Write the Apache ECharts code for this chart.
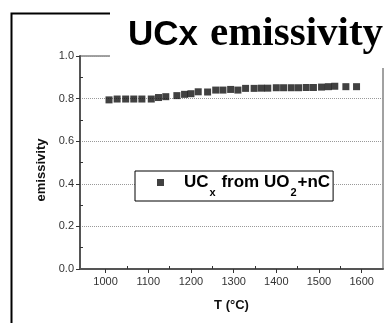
<!DOCTYPE html>
<html><head><meta charset="utf-8">
<script src="https://cdn.jsdelivr.net/npm/echarts@6/dist/echarts.min.js"></script>
<style>html,body{margin:0;padding:0;background:#fff}#c{width:390px;height:323px}</style>
</head><body><div id="c"></div>
<script>
const temps = [1008,1027,1047,1066,1085,1107,1124,1141,1167,1185,1200,1217,1239,1258,1275,1293,1310,1328,1348,1365,1380,1400,1417,1435,1452,1470,1487,1506,1522,1537,1563,1588];
const emiss = [0.794,0.798,0.798,0.798,0.798,0.798,0.805,0.809,0.814,0.820,0.823,0.832,0.831,0.840,0.840,0.843,0.840,0.848,0.848,0.849,0.849,0.851,0.851,0.851,0.851,0.852,0.852,0.854,0.856,0.858,0.856,0.856];
const xLabels = [1000,1100,1200,1300,1400,1500,1600];
const xMinor = [1050,1150,1250,1350,1450,1550];
const yLabels = [0,0.2,0.4,0.6,0.8,1.0];
const yMinor = [0.1,0.3,0.5,0.7,0.9];
const seriesName = 'UCx from UO2+nC';

const chart = echarts.init(document.getElementById('c'), null, {renderer:'canvas'});
const axisCol = '#555';
const sans = 'Liberation Sans, Arial, sans-serif';
chart.setOption({
  animation:false,
  grid:{left:80,top:56,right:7,bottom:54,show:true,borderColor:'#444',borderWidth:1},
  xAxis:[{
    type:'value',min:940,max:1650,position:'bottom',
    axisLine:{lineStyle:{color:axisCol,width:2}},
    axisTick:{customValues:xLabels,length:4,lineStyle:{color:'#333'}},
    axisLabel:{customValues:xLabels,formatter:v=>String(v),color:'#333',fontSize:11,fontFamily:sans,margin:7},
    splitLine:{show:false},
    name:'T (°C)',nameLocation:'middle',nameGap:30,
    nameTextStyle:{fontWeight:'bold',fontSize:13,fontFamily:sans,color:'#111'}
  },{
    type:'value',min:940,max:1650,position:'bottom',
    axisLine:{show:false},
    axisTick:{customValues:xMinor,inside:true,length:3,lineStyle:{color:'#333'}},
    axisLabel:{show:false},splitLine:{show:false}
  }],
  yAxis:[{
    type:'value',min:0,max:1,interval:0.1,
    axisLine:{show:true,lineStyle:{color:axisCol,width:2}},
    axisTick:{show:true,customValues:yLabels,length:4,lineStyle:{color:'#333'}},
    axisLabel:{customValues:yLabels,formatter:v=>v.toFixed(1),color:'#333',fontSize:11,fontFamily:sans,margin:6},
    splitLine:{show:true,lineStyle:{color:'#999',type:'dotted',width:1}}
  },{
    type:'value',min:0,max:1,position:'left',
    axisLine:{show:false},
    axisTick:{show:true,customValues:yMinor,inside:true,length:3,lineStyle:{color:'#333'}},
    axisLabel:{show:false},splitLine:{show:false}
  }],
  legend:{
    left:135,top:171,orient:'horizontal',
    backgroundColor:'#fff',borderColor:'#000',borderWidth:1,borderRadius:0,
    padding:[3,3,3,22],
    icon:'rect',itemWidth:7,itemHeight:7,
    formatter:()=>'{a|UC}{s|x}{a| from UO}{s|2}{a|+nC}',
    textStyle:{
      rich:{
        a:{fontSize:17,fontWeight:'bold',fontFamily:sans,color:'#000',lineHeight:21,verticalAlign:'middle'},
        s:{fontSize:11,fontWeight:'bold',fontFamily:sans,color:'#000',lineHeight:21,verticalAlign:'bottom',padding:[0,1,-5,1]}
      },
      padding:[0,0,0,15]
    },
    data:[seriesName]
  },
  series:[{
    name:seriesName,type:'scatter',symbol:'rect',symbolSize:7,
    itemStyle:{color:'#111'},
    data:temps.map((t,i)=>[t,emiss[i]])
  }],
  graphic:[
    {type:'rect',z:100,shape:{x:110,y:0,width:280,height:68},style:{fill:'#fff'}},
    {type:'polyline',z:101,shape:{points:[[11.5,323],[11.5,13.5],[110,13.5]]},style:{stroke:'#000',lineWidth:2,fill:null}},
    {type:'text',z:102,x:128,y:35,style:{text:'UCx',fontSize:35,fontWeight:'bold',fontFamily:sans,fill:'#000',verticalAlign:'middle'}},
    {type:'text',z:102,x:210,y:34.5,style:{text:'emissivity',fontSize:41,fontWeight:'bold',fontFamily:'Liberation Serif, Times New Roman, serif',fill:'#000',verticalAlign:'middle'}},
    {type:'text',z:102,x:41,y:170,rotation:Math.PI/2,style:{text:'emissivity',fontSize:13,fontWeight:'bold',fontFamily:sans,fill:'#111',align:'center',verticalAlign:'middle'}}
  ]
});
</script></body></html>
